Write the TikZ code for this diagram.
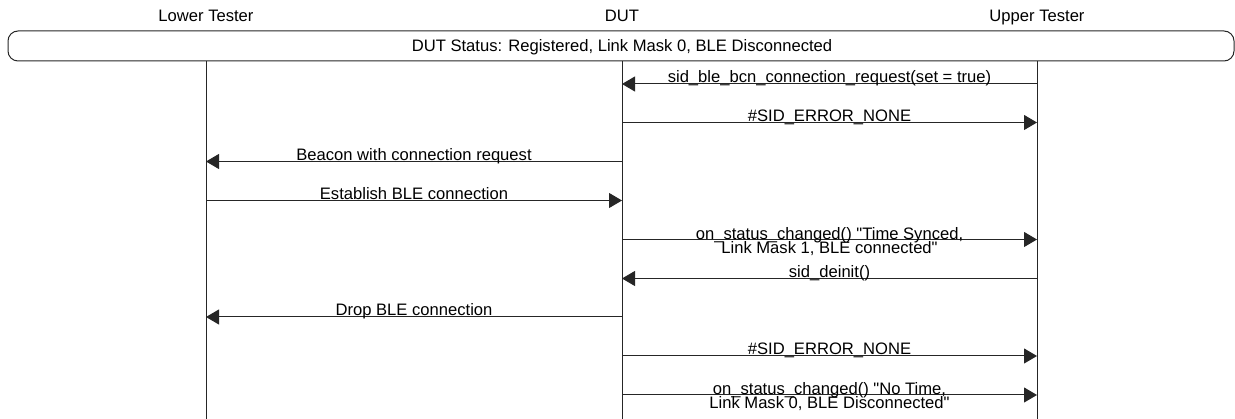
\documentclass[tikz,border=0pt]{standalone}
\usepackage{fontspec}
\setmainfont{Liberation Sans}
\usetikzlibrary{arrows.meta}
\newcommand\lblfont{\fontsize{16.6}{14}\selectfont\setlength{\lineskiplimit}{-20pt}}
\tikzset{
  lbl/.style={font=\lblfont, inner sep=0pt, anchor=base},
  life/.style={draw=black!85, line width=1pt},
  msg/.style={draw=black!85, line width=1pt, -{Triangle[length=13pt,width=15pt]}},
  statusbox/.style={draw=black!85, line width=1pt, rounded corners=10pt},
}
\begin{document}
\begin{tikzpicture}[x=1pt,y=-1pt]
\useasboundingbox (0,0) rectangle (1235,419);
% headers
\node[lbl] (lth) at (206,22) {Lower Tester};
\node[lbl] (duth) at (622,22) {DUT};
\node[lbl] (uth) at (1037,22) {Upper Tester};
% status box
\draw[statusbox] (8,31) rectangle (1234,61);
\node[lbl] (status) at (622,52) {DUT Status: Registered, Link Mask 0, BLE Disconnected};
% lifelines
\coordinate (lt0) at (206,61);  \coordinate (ltE) at (206,419);
\coordinate (dut0) at (622,61); \coordinate (dutE) at (622,419);
\coordinate (ut0) at (1037,61); \coordinate (utE) at (1037,419);
\draw[life] (lt0) -- (ltE);
\draw[life] (dut0) -- (dutE);
\draw[life] (ut0) -- (utE);
% message rows
\foreach \i/\y in {1/84,2/122.5,3/161.5,4/200.5,5/239.5,6/278.5,7/317,8/356,9/395}{
  \coordinate (L\i) at (206,\y);
  \coordinate (D\i) at (622,\y);
  \coordinate (U\i) at (1037,\y);
}
\draw[msg] (U1) -- (D1) node[lbl, midway, yshift=1pt] {sid\_ble\_bcn\_connection\_request(set = true)};
\draw[msg] (D2) -- (U2) node[lbl, midway, yshift=1pt] {\#SID\_ERROR\_NONE};
\draw[msg] (D3) -- (L3) node[lbl, midway, yshift=1pt] {Beacon with connection request};
\draw[msg] (L4) -- (D4) node[lbl, midway, yshift=1pt] {Establish BLE connection};
\draw[msg] (D5) -- (U5) node[lbl, midway, yshift=-14pt, align=center] {on\_status\_changed() \textquotedbl Time Synced,\\Link Mask 1, BLE connected\textquotedbl};
\draw[msg] (U6) -- (D6) node[lbl, midway, yshift=1pt] {sid\_deinit()};
\draw[msg] (D7) -- (L7) node[lbl, midway, yshift=1pt] {Drop BLE connection};
\draw[msg] (D8) -- (U8) node[lbl, midway, yshift=1pt] {\#SID\_ERROR\_NONE};
\draw[msg] (D9) -- (U9) node[lbl, midway, yshift=-14pt, align=center] {on\_status\_changed() \textquotedbl No Time,\\Link Mask 0, BLE Disconnected\textquotedbl};
\end{tikzpicture}
\end{document}
